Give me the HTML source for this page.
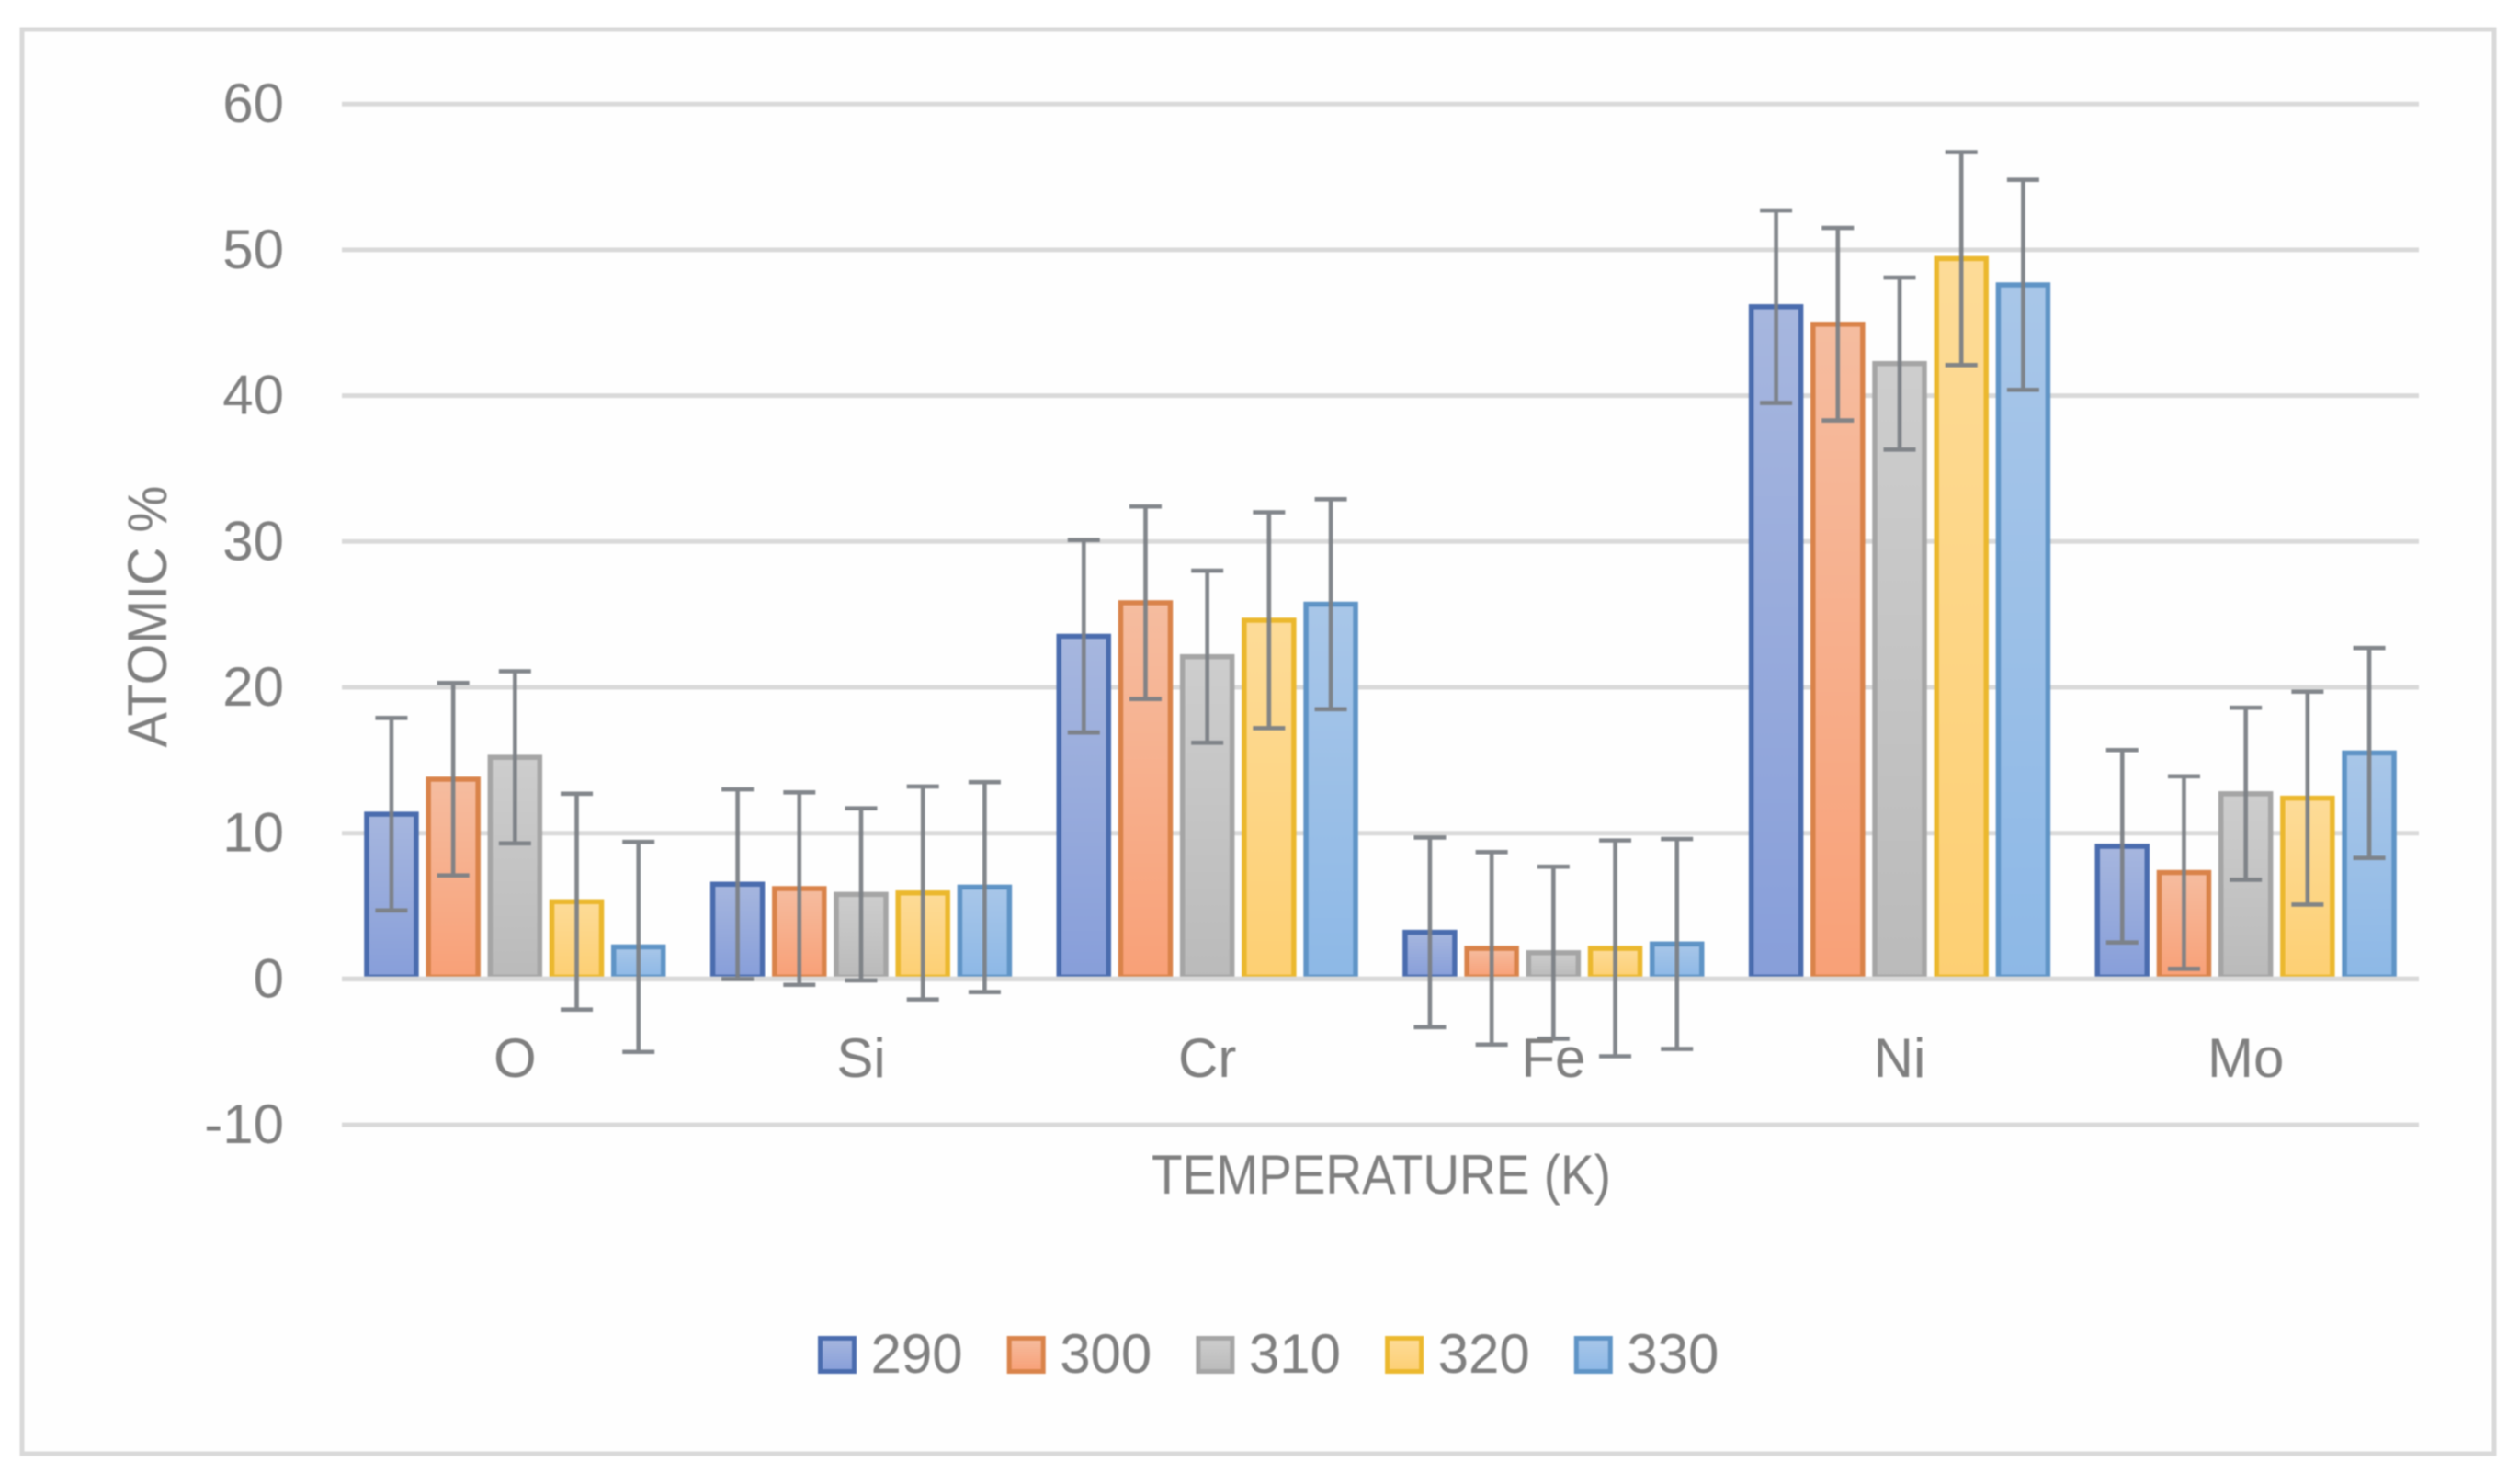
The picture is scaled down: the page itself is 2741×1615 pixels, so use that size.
<!DOCTYPE html>
<html lang="en">
<head>
<meta charset="utf-8">
<title>Atomic % by element and temperature</title>
<style>
  html, body { margin: 0; padding: 0; background: #fff; }
  #chart { display: block; width: 2741px; height: 1615px; filter: blur(0.7px); }
  text { font-family: "Liberation Sans", sans-serif; fill: #7f7f7f; font-size: 60px; }
</style>
</head>
<body>
<svg id="chart" xmlns="http://www.w3.org/2000/svg" width="2741" height="1615" viewBox="0 0 2741 1615">
  <defs id="defs"></defs>
  <rect x="24" y="32" width="2690" height="1550" fill="#fefefe" stroke="#d9d9d9" stroke-width="5"></rect>
  <g id="grid"></g>
  <g id="bars"></g>
  <g id="axis"></g>
  <g id="errors"></g>
  <g id="yticks"></g>
  <g id="xticks"></g>
  <text transform="translate(181 671) rotate(-90)" text-anchor="middle" textLength="285" lengthAdjust="spacingAndGlyphs">ATOMIC %</text>
  <text x="1503" y="1299" text-anchor="middle" textLength="500" lengthAdjust="spacingAndGlyphs">TEMPERATURE (K)</text>
  <g id="legend"></g>
</svg>
<script>
const categories = ["O", "Si", "Cr", "Fe", "Ni", "Mo"];
const seriesNames = ["290", "300", "310", "320", "330"];
const yTicks = [60, 50, 40, 30, 20, 10, 0, -10];

const values290 = [11.3, 6.5, 23.5, 3.2, 46.1, 9.1];
const values300 = [13.7, 6.2, 25.8, 2.1, 44.9, 7.3];
const values310 = [15.2, 5.8, 22.1, 1.8, 42.2, 12.7];
const values320 = [5.3, 5.9, 24.6, 2.1, 49.4, 12.4];
const values330 = [2.2, 6.3, 25.7, 2.4, 47.6, 15.5];

const errors290 = [6.6, 6.5, 6.6, 6.5, 6.6, 6.6];
const errors300 = [6.6, 6.6, 6.6, 6.6, 6.6, 6.6];
const errors310 = [5.9, 5.9, 5.9, 5.9, 5.9, 5.9];
const errors320 = [7.4, 7.3, 7.4, 7.4, 7.3, 7.3];
const errors330 = [7.2, 7.2, 7.2, 7.2, 7.2, 7.2];

const seriesValues = [values290, values300, values310, values320, values330];
const seriesErrors = [errors290, errors300, errors310, errors320, errors330];

const seriesTop = ["#a6b6de", "#f5bc9f", "#cdcdcd", "#fddb97", "#a8c6e8"];
const seriesBottom = ["#879ed9", "#f8a077", "#bababa", "#fdcf73", "#8db8e6"];
const seriesBorder = ["#4a6cae", "#d9834a", "#a5a5a5", "#ebb82e", "#5f94c6"];

const NS = "http://www.w3.org/2000/svg";
const plotLeft = 372, plotRight = 2632, zeroY = 1065.4, pxPerUnit = 15.87;
const bandW = (plotRight - plotLeft) / categories.length;
const barPitch = 67.2, barW = 54, capW = 35;

function yScale(v) { return zeroY - v * pxPerUnit; }
function groupCenter(i) { return plotLeft + bandW * (i + 0.5); }
function barCenter(i, s) { return groupCenter(i) + (s - (seriesNames.length - 1) / 2) * barPitch; }
function make(tag, attrs, parent) {
  const el = document.createElementNS(NS, tag);
  for (const k in attrs) el.setAttribute(k, attrs[k]);
  parent.appendChild(el);
  return el;
}

const defs = document.getElementById("defs");
const gridG = document.getElementById("grid");
const barsG = document.getElementById("bars");
const axisG = document.getElementById("axis");
const errorsG = document.getElementById("errors");
const yticksG = document.getElementById("yticks");
const xticksG = document.getElementById("xticks");
const legendG = document.getElementById("legend");

seriesNames.forEach(function (name, s) {
  const grad = make("linearGradient", { id: "fill" + s, x1: 0, y1: 0, x2: 0, y2: 1 }, defs);
  make("stop", { offset: "0", "stop-color": seriesTop[s] }, grad);
  make("stop", { offset: "1", "stop-color": seriesBottom[s] }, grad);
});

yTicks.forEach(function (t) {
  const y = yScale(t);
  if (t !== 0) {
    const line = make("line", { x1: plotLeft, x2: plotRight, y1: y, y2: y, stroke: "#d9d9d9", "stroke-width": 5 }, gridG);
    
    
  }
  const label = make("text", { x: 309, y: y + 20, "text-anchor": "end" }, yticksG);
  label.textContent = String(t);
  
  
});

const zeroLine = make("line", { x1: plotLeft, x2: plotRight, y1: zeroY, y2: zeroY, stroke: "#d9d9d9", "stroke-width": 5.5 }, axisG);



categories.forEach(function (cat, i) {
  const label = make("text", { x: groupCenter(i), y: 1172, "text-anchor": "middle" }, xticksG);
  label.textContent = cat;
  
  

  seriesNames.forEach(function (name, s) {
    const v = seriesValues[s][i];
    const e = seriesErrors[s][i];
    const cx = barCenter(i, s);
    const top = yScale(v);
    const bar = make("rect", {
      x: cx - barW / 2, y: top, width: barW, height: zeroY - top - 2,
      fill: "url(#fill" + s + ")", stroke: seriesBorder[s], "stroke-width": 5.5
    }, barsG);
    
    

    const yHi = yScale(v + e);
    const yLo = yScale(v - e);
    const err = make("path", {
      d: "M" + cx + " " + yHi + "V" + yLo +
         "M" + (cx - capW / 2) + " " + yHi + "H" + (cx + capW / 2) +
         "M" + (cx - capW / 2) + " " + yLo + "H" + (cx + capW / 2),
      fill: "none", stroke: "#7b7f85", "stroke-width": 4.6, "stroke-opacity": 0.95
    }, errorsG);
    
    
  });
});

seriesNames.forEach(function (name, s) {
  const x = 892.5 + s * 205.7;
  const swatch = make("rect", {
    x: x, y: 1456.5, width: 37, height: 36,
    fill: "url(#fill" + s + ")", stroke: seriesBorder[s], "stroke-width": 5
  }, legendG);
  
  
  const label = make("text", { x: x + 55, y: 1494 }, legendG);
  label.textContent = name;
  
  
});
</script>
</body>
</html>
